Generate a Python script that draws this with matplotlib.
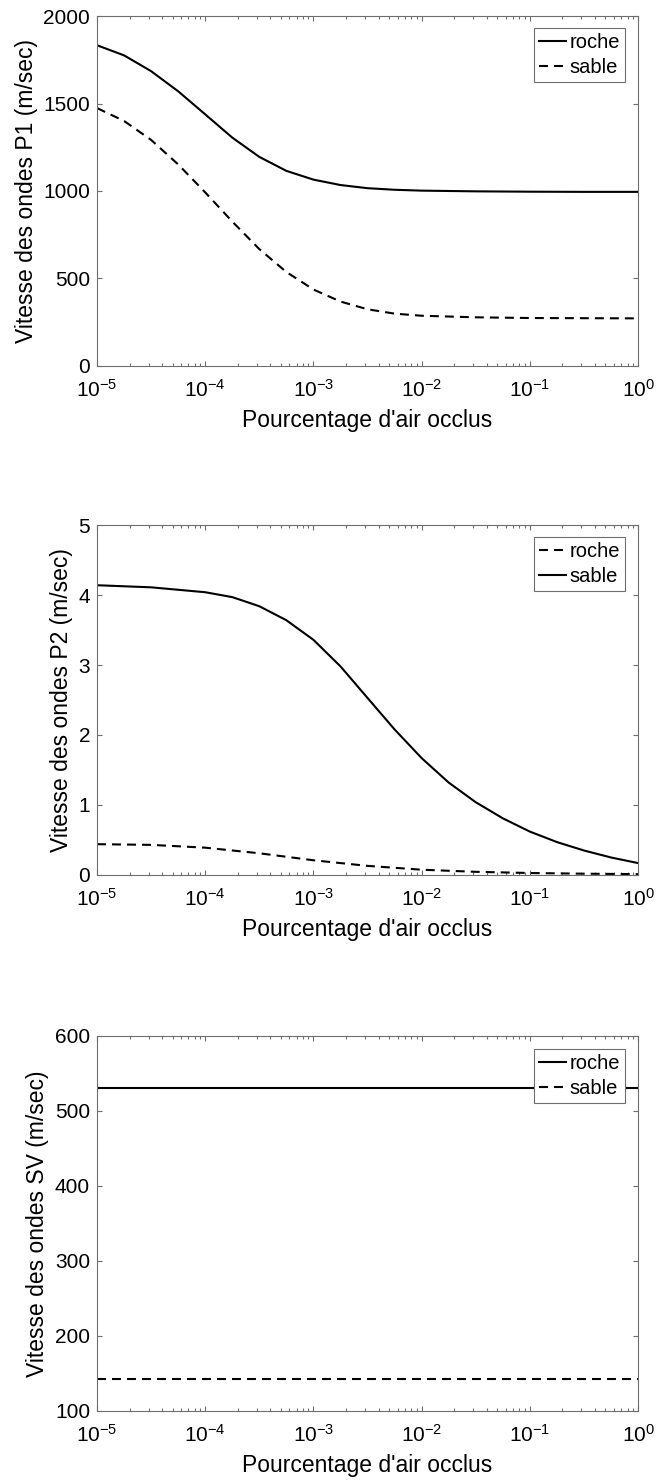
import matplotlib.pyplot as plt
from matplotlib.ticker import LogLocator, NullFormatter

plt.rcParams['font.family'] = ['Liberation Sans', 'DejaVu Sans']
plt.rcParams['mathtext.fontset'] = 'custom'
plt.rcParams['mathtext.rm'] = 'Liberation Sans'
plt.rcParams['mathtext.it'] = 'Liberation Sans:italic'
plt.rcParams['mathtext.default'] = 'regular'
plt.rcParams['axes.unicode_minus'] = False

# percentage of occluded air (x axis, log scale), quarter decades
air_p1 = [1e-5, 1.78e-5, 3.16e-5, 5.62e-5, 1e-4, 1.78e-4, 3.16e-4, 5.62e-4, 1e-3,
          1.78e-3, 3.16e-3, 5.62e-3, 1e-2, 3.16e-2, 1e-1, 3.16e-1, 1.0]
roche_p1 = [1833, 1775, 1685, 1570, 1438, 1305, 1195, 1115, 1065,
            1034, 1016, 1007, 1002, 998, 996, 995, 995]
sable_p1 = [1474, 1400, 1292, 1152, 992, 825, 668, 537, 437,
            368, 324, 299, 287, 278, 274, 273, 272]

air_p2 = [1e-5, 3.16e-5, 1e-4, 1.78e-4, 3.16e-4, 5.62e-4, 1e-3, 1.78e-3, 3.16e-3,
          5.62e-3, 1e-2, 1.78e-2, 3.16e-2, 5.62e-2, 1e-1, 1.78e-1, 3.16e-1, 5.62e-1, 1.0]
sable_p2 = [4.14, 4.11, 4.04, 3.97, 3.84, 3.64, 3.36, 2.98, 2.53,
            2.08, 1.67, 1.32, 1.04, 0.81, 0.62, 0.47, 0.35, 0.25, 0.17]
air_p2_roche = [1e-5, 3.16e-5, 1e-4, 3.16e-4, 1e-3, 3.16e-3, 1e-2, 3.16e-2,
                1e-1, 3.16e-1, 1.0]
roche_p2 = [0.44, 0.43, 0.39, 0.31, 0.21, 0.13, 0.075, 0.045, 0.028, 0.018, 0.012]

air_sv = [1e-5, 1.0]
roche_sv = [531, 531]
sable_sv = [142, 142]

GREY = '#6e6e6e'
DASH = (4.3, 2.9)


def setup_axes(ax, ylim, yticks, ylabel):
    """ common MATLAB-like styling """
    ax.set_xscale('log')
    ax.set_xlim(1e-5, 1)
    ax.set_ylim(*ylim)
    ax.set_yticks(yticks)
    ax.xaxis.set_major_locator(LogLocator(base=10, numticks=10))
    ax.xaxis.set_minor_locator(LogLocator(base=10, subs=range(2, 10), numticks=20))
    ax.xaxis.set_minor_formatter(NullFormatter())
    ax.tick_params(which='both', direction='in', top=True, right=True,
                   colors=GREY, labelcolor='black', labelsize=15)
    ax.tick_params(which='major', length=3.8, width=0.8)
    ax.tick_params(which='minor', length=2.2, width=0.8)
    ax.tick_params(axis='x', which='major', pad=9)
    ax.tick_params(axis='y', which='major', pad=5)
    for sp in ax.spines.values():
        sp.set_color(GREY)
        sp.set_linewidth(0.8)
    ax.set_xlabel("Pourcentage d'air occlus", fontsize=16.5, labelpad=6)
    ax.set_ylabel(ylabel, fontsize=16.5)


def add_legend(ax, handles):
    leg = ax.legend(handles, ['roche', 'sable'], loc='upper right',
                    bbox_to_anchor=(0.976, 0.966), borderaxespad=0,
                    fontsize=14.5, handlelength=1.35, handletextpad=0.15,
                    borderpad=0.25, labelspacing=0.3, fancybox=False,
                    framealpha=1, edgecolor=GREY)
    leg.get_frame().set_linewidth(0.8)


fig = plt.figure(figsize=(6.56, 14.84), dpi=100)

# panel 1 : P1 waves
ax1 = fig.add_axes([0.1479, 0.7534, 0.8247, 0.2358])
l1, = ax1.plot(air_p1, roche_p1, 'k-', lw=1.5)
l2, = ax1.plot(air_p1, sable_p1, 'k--', lw=1.5, dashes=DASH)
setup_axes(ax1, (0, 2000), [0, 500, 1000, 1500, 2000],
           'Vitesse des ondes P1 (m/sec)')
add_legend(ax1, [l1, l2])

# panel 2 : P2 waves
ax2 = fig.add_axes([0.1479, 0.4104, 0.8247, 0.2358])
l1, = ax2.plot(air_p2_roche, roche_p2, 'k--', lw=1.5, dashes=DASH)
l2, = ax2.plot(air_p2, sable_p2, 'k-', lw=1.5)
setup_axes(ax2, (0, 5), [0, 1, 2, 3, 4, 5], 'Vitesse des ondes P2 (m/sec)')
add_legend(ax2, [l1, l2])

# panel 3 : SV waves
ax3 = fig.add_axes([0.1479, 0.0492, 0.8247, 0.2527])
l1, = ax3.plot(air_sv, roche_sv, 'k-', lw=1.5)
l2, = ax3.plot(air_sv, sable_sv, 'k--', lw=1.5, dashes=DASH)
setup_axes(ax3, (100, 600), [100, 200, 300, 400, 500, 600],
           'Vitesse des ondes SV (m/sec)')
add_legend(ax3, [l1, l2])

fig.savefig('out.png', dpi=100)
